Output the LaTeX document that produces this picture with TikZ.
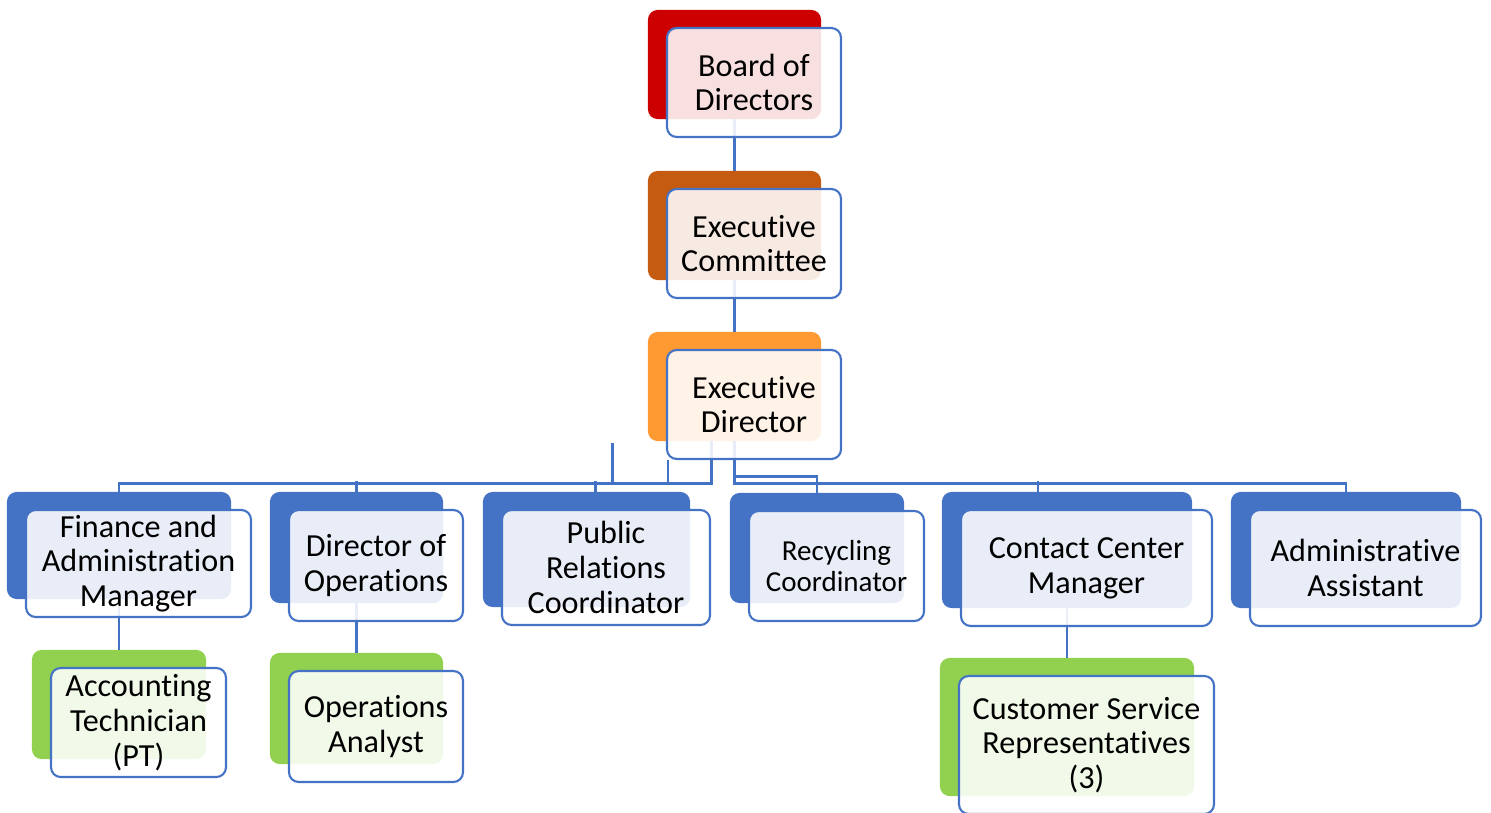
\documentclass[tikz,border=0pt]{standalone}
\usepackage{fontspec}
\setmainfont{Carlito}[Ligatures=NoCommon]
\usetikzlibrary{positioning,fit,calc}

\definecolor{orgblue}{HTML}{4472C4}
\definecolor{boardred}{HTML}{CC0000}
\definecolor{committee}{HTML}{C55A11}
\definecolor{director}{HTML}{FF9A33}
\definecolor{staffgreen}{HTML}{92D050}

\pgfdeclarelayer{tabs}
\pgfdeclarelayer{links}
\pgfsetlayers{tabs,links,main}

\begin{document}
\begin{tikzpicture}[x=0.02cm, y=-0.02cm,
    unit/.style={draw=orgblue, line width=1.2pt, rounded corners=5.5pt,
        fill=white, fill opacity=0.88, text opacity=1, align=center,
        inner sep=0pt, font=\fontsize{18.3}{19.8}\selectfont},
    boxsize/.style 2 args={minimum width=#1*0.02cm, minimum height=#2*0.02cm},
    tab/.style={rounded corners=5.5pt, inner sep=0pt},
    link/.style={draw=orgblue, line width=1.3pt}]
        \useasboundingbox (0,0) rectangle (1491,812);

        % Top of the chart
        \node[unit, boxsize={174}{109}] (BD) at (754,82.5) {Board of\\Directors};
        \node[unit, boxsize={174}{109}] (EC) at (754,243.5) {Executive\\Committee};
        \node[unit, boxsize={174}{109}] (ED) at (754,404.5) {Executive\\Director};

        % Managers reporting to the executive director
        \node[unit, boxsize={225}{107}] (FA) at (138.5,563.5) {Finance and\\Administration\\Manager};
        \node[unit, boxsize={174}{111}] (DO) at (376,565.5) {Director of\\Operations};
        \node[unit, boxsize={208}{115}] (PR) at (606,567.5) {Public\\Relations\\Coordinator};
        \node[unit, boxsize={175}{110}, font=\fontsize{16.5}{18}\selectfont] (RC) at (836.5,566) {Recycling\\Coordinator};
        \node[unit, boxsize={251}{116}] (CC) at (1086.5,568) {Contact Center\\Manager};
        \node[unit, boxsize={231}{116}] (AA) at (1365.5,568) {Administrative\\Assistant};

        % Staff
        \node[unit, boxsize={175}{109}] (AT) at (138.5,722.5) {Accounting\\Technician\\(PT)};
        \node[unit, boxsize={174}{111}] (OA) at (376,726.5) {Operations\\Analyst};
        \node[unit, boxsize={255}{138}] (CSR) at (1086.5,745) {Customer Service\\Representatives\\(3)};

        % Coloured tabs sitting behind each box
        \begin{pgfonlayer}{tabs}
            \foreach \n/\c in {BD/boardred, EC/committee, ED/director,
                    FA/orgblue, DO/orgblue, PR/orgblue, RC/orgblue, CC/orgblue, AA/orgblue,
                    AT/staffgreen, OA/staffgreen, CSR/staffgreen}
                \node[tab, fill=\c, fit={($(\n.north west)+(-18,-17)$) ($(\n.south east)+(-21,-19)$)}] (\n-tab) {};
        \end{pgfonlayer}

        \begin{pgfonlayer}{links}
            % Board down to the executive director
            \draw[link] (BD-tab.south) -- (EC-tab.north);
            \draw[link] (EC-tab.south) -- (ED-tab.north);

            % Left bus
            \draw[link] ($(ED-tab.south)+(-23,0)$) -- ++(0,42) -| (FA-tab.north);
            \draw[link] (DO-tab.north) -- ++(0,-11);
            \draw[link] ($(PR-tab.north)+(9,0)$) -- ++(0,-11);
            \draw[link] ($(ED-tab.south west)+(-35,2)$) -- ++(0,40);
            \draw[link] ($(ED.south west)+(2,0)$) -- ++(0,23);

            % Right bus
            \draw[link] (ED-tab.south) -- ++(0,42) -| (AA-tab.north);
            \draw[link] (ED-tab.south) -- ++(0,35) -| (RC-tab.north);
            \draw[link] ($(CC-tab.north)+(-29,0)$) -- ++(0,-11);

            % Staff under their managers
            \draw[link] (FA-tab.south) -- (AT-tab.north);
            \draw[link] (DO-tab.south) -- (OA-tab.north);
            \draw[link] (CC-tab.south) -- (CSR-tab.north);
        \end{pgfonlayer}
\end{tikzpicture}
\end{document}
